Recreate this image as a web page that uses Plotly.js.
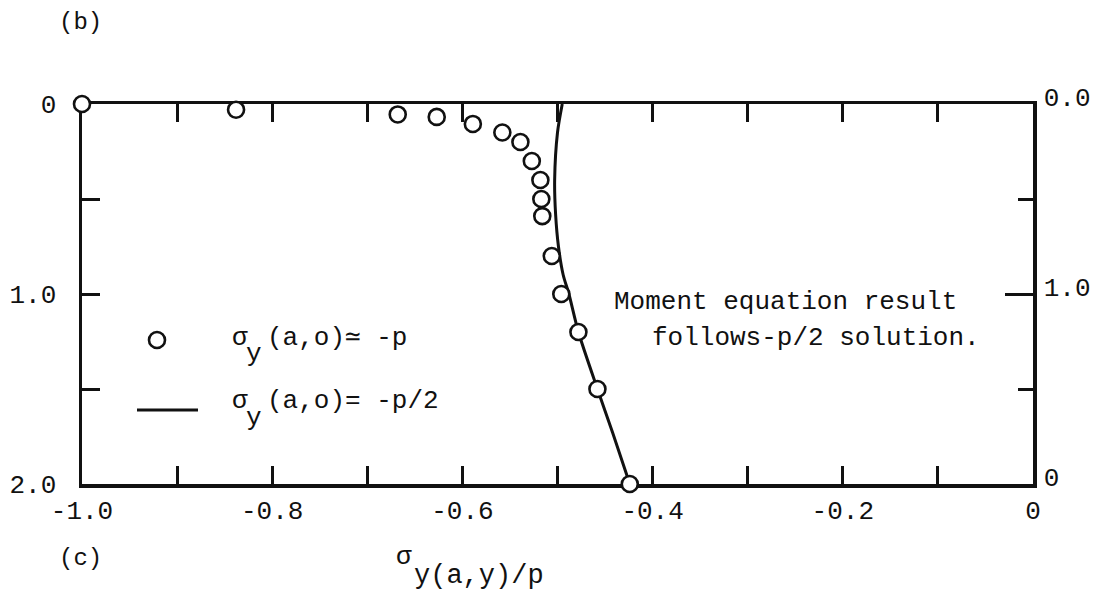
<!DOCTYPE html>
<html>
<head>
<meta charset="utf-8">
<script src="https://cdn.plot.ly/plotly-3.0.1.min.js"></script>
<style>
  html, body { margin: 0; padding: 0; background: #fff; }
  #chart { width: 1097px; height: 595px; }
</style>
</head>
<body>
<div id="chart"></div>
<script>
// Stress ratio along the edge: measured points (sigma_y(a,o) = -p)
const pointsStress = [-1.0, -0.838, -0.668, -0.627, -0.589, -0.558, -0.539, -0.527, -0.518, -0.517, -0.516, -0.506, -0.496, -0.478, -0.458, -0.424];
const pointsDepth  = [0.0, 0.03, 0.055, 0.068, 0.105, 0.15, 0.20, 0.30, 0.40, 0.50, 0.59, 0.80, 1.0, 1.2, 1.5, 2.0];

// Solution curve for sigma_y(a,o) = -p/2
const curveStress = [-0.495, -0.500, -0.503, -0.502, -0.499, -0.494, -0.488, -0.478, -0.458, -0.442, -0.424];
const curveDepth  = [0.0, 0.15, 0.40, 0.58, 0.75, 0.90, 1.0, 1.2, 1.5, 1.73, 2.0];

// Axis ticks and labels
const xTickVals = [-1.0, -0.9, -0.8, -0.7, -0.6, -0.5, -0.4, -0.3, -0.2, -0.1, 0];
const xTickText = ['-1.0', '', '-0.8', '', '-0.6', '', '-0.4', '', '-0.2', '', '0'];
const leftTickVals = [0, 1, 2];
const leftTickText = ['0', '1.0', '2.0'];
const rightTickVals = [0, 1, 2];
const rightTickText = ['0.0', '1.0', '0'];

const FONT = 'Liberation Mono, Courier New, monospace';
const INK = '#111111';

const traces = [
  {
    x: curveStress, y: curveDepth, type: 'scatter', mode: 'lines',
    line: { color: INK, width: 3, shape: 'spline', smoothing: 0.8 },
    cliponaxis: false, hoverinfo: 'skip', showlegend: false
  },
  {
    x: pointsStress, y: pointsDepth, type: 'scatter', mode: 'markers',
    marker: { symbol: 'circle', size: 16, color: '#ffffff', line: { color: INK, width: 2.6 } },
    cliponaxis: false, showlegend: false
  },
  // invisible trace so the right-hand axis is drawn
  { x: [null], y: [null], yaxis: 'y2', type: 'scatter', mode: 'markers', showlegend: false, hoverinfo: 'skip' }
];

function px(x) { return (x - 82) / 951; }
function py(y) { return (484 - y) / 380; }

function note(text, x, y, opts) {
  return Object.assign({
    xref: 'paper', yref: 'paper', x: px(x), y: py(y),
    text: text, showarrow: false, xanchor: 'center', yanchor: 'middle',
    font: { family: FONT, size: 26, color: INK }
  }, opts || {});
}

const layout = {
  width: 1097, height: 595,
  margin: { l: 82, r: 64, t: 104, b: 111, pad: 0 },
  paper_bgcolor: '#ffffff', plot_bgcolor: '#ffffff',
  showlegend: false,
  font: { family: FONT, size: 26, color: INK },
  xaxis: {
    range: [-1.0, 0], showgrid: false, zeroline: false,
    showline: true, linecolor: INK, linewidth: 3.5, mirror: 'ticks',
    ticks: 'inside', ticklen: 18, tickwidth: 3, tickcolor: INK,
    tickmode: 'array', tickvals: xTickVals, ticktext: xTickText,
    tickfont: { family: FONT, size: 26, color: INK },
    ticklabelstandoff: 0, layer: 'below traces', fixedrange: true
  },
  yaxis: {
    range: [2, 0], showgrid: false, zeroline: false,
    showline: true, linecolor: INK, linewidth: 3.5,
    ticks: 'inside', ticklen: 4, tickwidth: 3, tickcolor: INK,
    tickmode: 'array', tickvals: leftTickVals, ticktext: leftTickText,
    tickfont: { family: FONT, size: 26, color: INK },
    minor: { tickmode: 'linear', tick0: 0, dtick: 0.5, ticks: 'inside', ticklen: 18, tickwidth: 3, tickcolor: INK, showgrid: false },
    ticklabelstandoff: 17, layer: 'below traces', fixedrange: true
  },
  yaxis2: {
    overlaying: 'y', side: 'right', anchor: 'x',
    range: [2, 0], showgrid: false, zeroline: false,
    showline: true, linecolor: INK, linewidth: 3.5,
    ticks: 'inside', ticklen: 28, tickwidth: 3, tickcolor: INK,
    tickmode: 'array', tickvals: rightTickVals, ticktext: rightTickText,
    tickfont: { family: FONT, size: 26, color: INK },
    minor: { tickmode: 'linear', tick0: 0, dtick: 0.5, ticks: 'inside', ticklen: 15, tickwidth: 3, tickcolor: INK, showgrid: false },
    ticklabelstandoff: 2, ticklabelshift: 7, layer: 'below traces', fixedrange: true
  },
  shapes: [
    // legend keys
    { type: 'circle', xref: 'paper', yref: 'paper',
      x0: px(149), x1: px(165), y0: py(348), y1: py(332),
      line: { color: INK, width: 2.6 }, fillcolor: '#ffffff' },
    { type: 'line', xref: 'paper', yref: 'paper',
      x0: px(137), x1: px(198), y0: py(410), y1: py(410),
      line: { color: INK, width: 3 } }
  ],
  annotations: [
    note('(b)', 80, 23, { font: { family: FONT, size: 24, color: INK } }),
    note('(c)', 80, 558, { font: { family: FONT, size: 24, color: INK } }),
    // x-axis title: sigma with lowered y(a,y)/p
    note('σ', 404, 557),
    note('y(a,y)/p', 412, 576, { xanchor: 'left', font: { family: FONT, size: 27, color: INK } }),
    // legend texts
    note('σ', 240, 338),
    note('y', 254, 354),
    note('(a,o)≃ -p', 265, 338, { xanchor: 'left' }),
    note('σ', 240, 401),
    note('y', 254, 418),
    note('(a,o)= -p/2', 265, 401, { xanchor: 'left' }),
    // remark
    note('Moment equation result', 612, 302, { xanchor: 'left' }),
    note('follows-p/2 solution.', 650, 338, { xanchor: 'left' })
  ]
};

Plotly.newPlot('chart', traces, layout, { staticPlot: true, displayModeBar: false });
</script>
</body>
</html>
